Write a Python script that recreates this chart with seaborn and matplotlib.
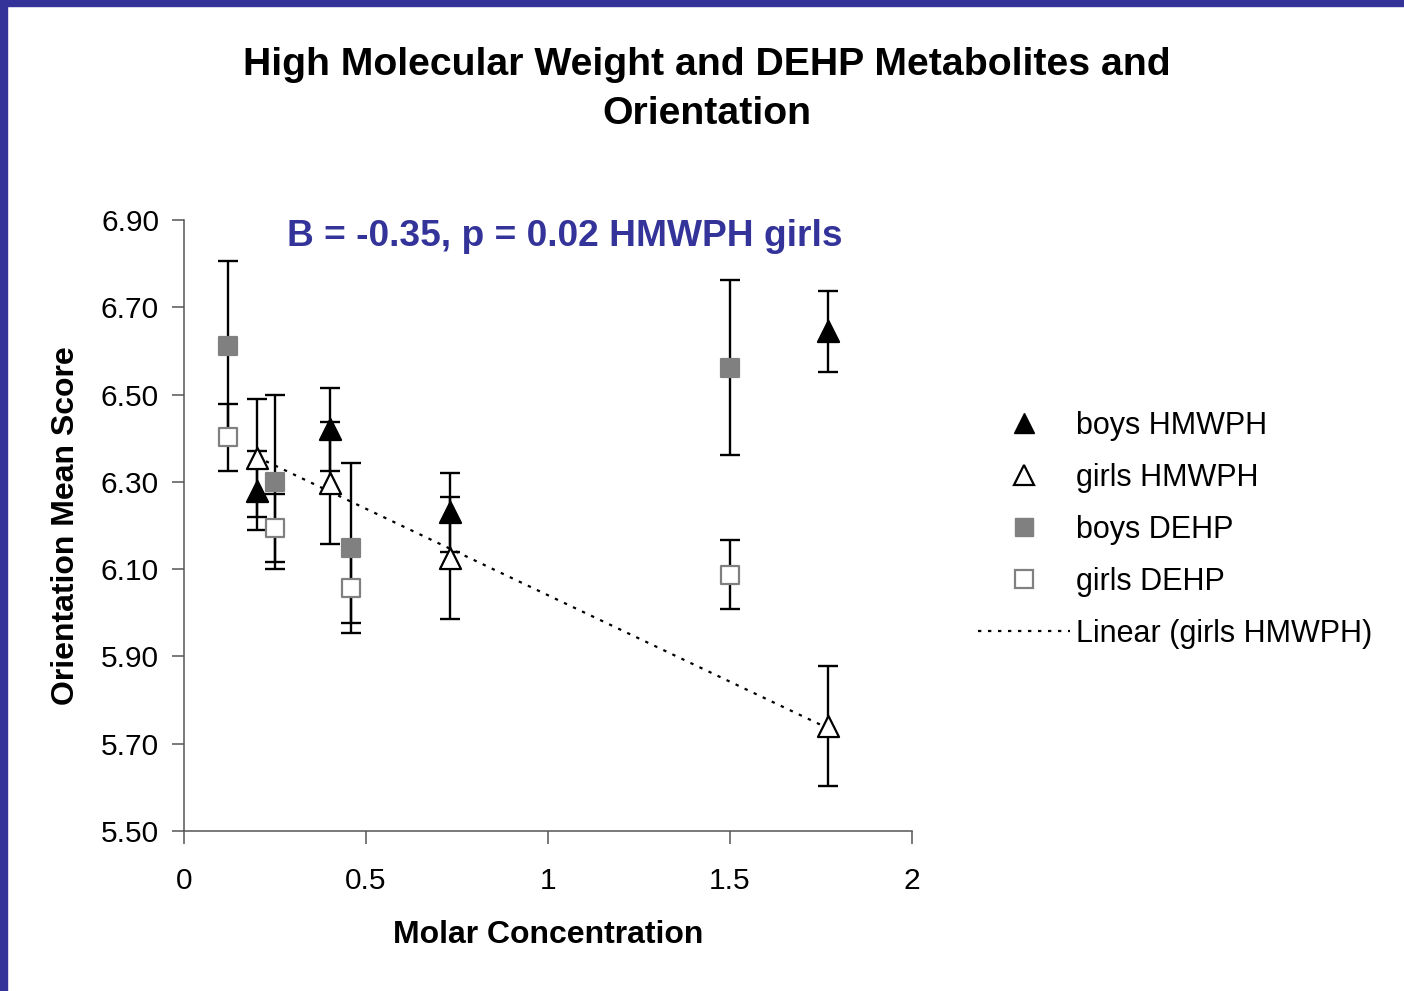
import matplotlib
matplotlib.use("Agg")
import matplotlib.pyplot as plt
from matplotlib.lines import Line2D
from matplotlib.patches import Rectangle
import numpy as np
import pandas as pd
import seaborn as sns

# values
boys_hmwph_x = [0.20, 0.40, 0.73, 1.77]
boys_hmwph_y = [6.28, 6.42, 6.23, 6.645]
boys_hmwph_err = [0.09, 0.095, 0.09, 0.093]

girls_hmwph_x = [0.20, 0.40, 0.73, 1.77]
girls_hmwph_y = [6.355, 6.297, 6.125, 5.740]
girls_hmwph_err = [0.135, 0.14, 0.14, 0.138]

boys_dehp_x = [0.12, 0.25, 0.46, 1.50]
boys_dehp_y = [6.611, 6.30, 6.148, 6.562]
boys_dehp_err = [0.195, 0.20, 0.195, 0.20]

girls_dehp_x = [0.12, 0.25, 0.46, 1.50]
girls_dehp_y = [6.402, 6.194, 6.057, 6.087]
girls_dehp_err = [0.077, 0.077, 0.08, 0.079]

y_ticks = [5.50, 5.70, 5.90, 6.10, 6.30, 6.50, 6.70, 6.90]
x_ticks = [0, 0.5, 1, 1.5, 2]
x_tick_labels = ["0", "0.5", "1", "1.5", "2"]

frames = []
for name, xs, ys, es in [
    ("boys HMWPH", boys_hmwph_x, boys_hmwph_y, boys_hmwph_err),
    ("girls HMWPH", girls_hmwph_x, girls_hmwph_y, girls_hmwph_err),
    ("boys DEHP", boys_dehp_x, boys_dehp_y, boys_dehp_err),
    ("girls DEHP", girls_dehp_x, girls_dehp_y, girls_dehp_err),
]:
    frames.append(pd.DataFrame({"conc": xs, "score": ys, "err": es, "group": name}))
df = pd.concat(frames, ignore_index=True)

# marker, face, edge per group
styles = {
    "boys HMWPH": ("^", "black", "black"),
    "girls HMWPH": ("^", "white", "black"),
    "boys DEHP": ("s", "#808080", "#808080"),
    "girls DEHP": ("s", "white", "#808080"),
}

sns.set_style("white")
plt.rcParams["font.family"] = ["Liberation Sans", "DejaVu Sans"]
plt.rcParams["text.color"] = "black"
plt.rcParams["axes.labelcolor"] = "black"

fig = plt.figure(figsize=(14.04, 9.91), dpi=100)
ax = fig.add_axes([0.1311, 0.1615, 0.5185, 0.6165])

for name, sub in df.groupby("group", sort=False):
    ax.errorbar(sub["conc"], sub["score"], yerr=sub["err"], fmt="none",
                ecolor="black", elinewidth=1.7, capsize=7, capthick=1.7, zorder=2)

sns.regplot(data=df[df["group"] == "girls HMWPH"], x="conc", y="score", ax=ax,
            scatter=False, ci=None, truncate=True,
            line_kws={"color": "black", "linestyle": (0, (1.5, 3)), "linewidth": 1.6, "zorder": 2.5})

for name, sub in df.groupby("group", sort=False):
    m, fc, ec = styles[name]
    sns.scatterplot(data=sub, x="conc", y="score", ax=ax, marker=m, color=fc,
                    edgecolor=ec, linewidth=1.6, s=230 if m == "^" else 175, zorder=3)

ax.set_xlim(0, 2)
ax.set_ylim(5.50, 6.90)
ax.set_xticks(x_ticks)
ax.set_xticklabels(x_tick_labels)
ax.set_yticks(y_ticks)
ax.set_yticklabels([f"{v:.2f}" for v in y_ticks])
ax.tick_params(axis="both", direction="out", length=9, width=1.1, color="#555555",
               labelsize=21.5, labelcolor="black", bottom=True, left=True)
ax.tick_params(axis="y", pad=9)
ax.tick_params(axis="x", pad=17)
for side in ["top", "right"]:
    ax.spines[side].set_visible(False)
for side in ["left", "bottom"]:
    ax.spines[side].set_color("#555555")
    ax.spines[side].set_linewidth(1.1)

ax.set_xlabel("Molar Concentration", fontsize=23, fontweight="bold", labelpad=18)
ax.set_ylabel("Orientation Mean Score", fontsize=23, fontweight="bold", labelpad=14)

ax.text(1.045, 6.862, "B = -0.35, p = 0.02 HMWPH girls", fontsize=26.7, fontweight="bold",
        color="#333399", ha="center", va="center")

fig.text(0.5035, 0.9097, "High Molecular Weight and DEHP Metabolites and\nOrientation",
         fontsize=28.3, fontweight="bold", ha="center", va="center", linespacing=1.45)

handles = [
    Line2D([], [], linestyle="none", marker="^", markersize=15, markerfacecolor="black",
           markeredgecolor="black"),
    Line2D([], [], linestyle="none", marker="^", markersize=15, markerfacecolor="white",
           markeredgecolor="black", markeredgewidth=1.6),
    Line2D([], [], linestyle="none", marker="s", markersize=12.5, markerfacecolor="#808080",
           markeredgecolor="#808080"),
    Line2D([], [], linestyle="none", marker="s", markersize=12.5, markerfacecolor="white",
           markeredgecolor="#808080", markeredgewidth=1.6),
    Line2D([], [], color="black", linestyle=(0, (1.5, 3)), linewidth=1.6),
]
labels = ["boys HMWPH", "girls HMWPH", "boys DEHP", "girls DEHP", "Linear (girls HMWPH)"]
fig.legend(handles, labels, loc="upper left", bbox_to_anchor=(0.6966, 0.5853),
           frameon=False, fontsize=22, handlelength=3.0, handletextpad=0.2,
           labelspacing=0.72, borderpad=0, borderaxespad=0)

# blue slide border on the left and top
fig.patches.append(Rectangle((0, 0), 7 / 1404, 1, transform=fig.transFigure,
                             color="#333399", zorder=10))
fig.patches.append(Rectangle((0, 1 - 6 / 991), 1, 6 / 991, transform=fig.transFigure,
                             color="#333399", zorder=10))

fig.savefig("out.png", dpi=100)
